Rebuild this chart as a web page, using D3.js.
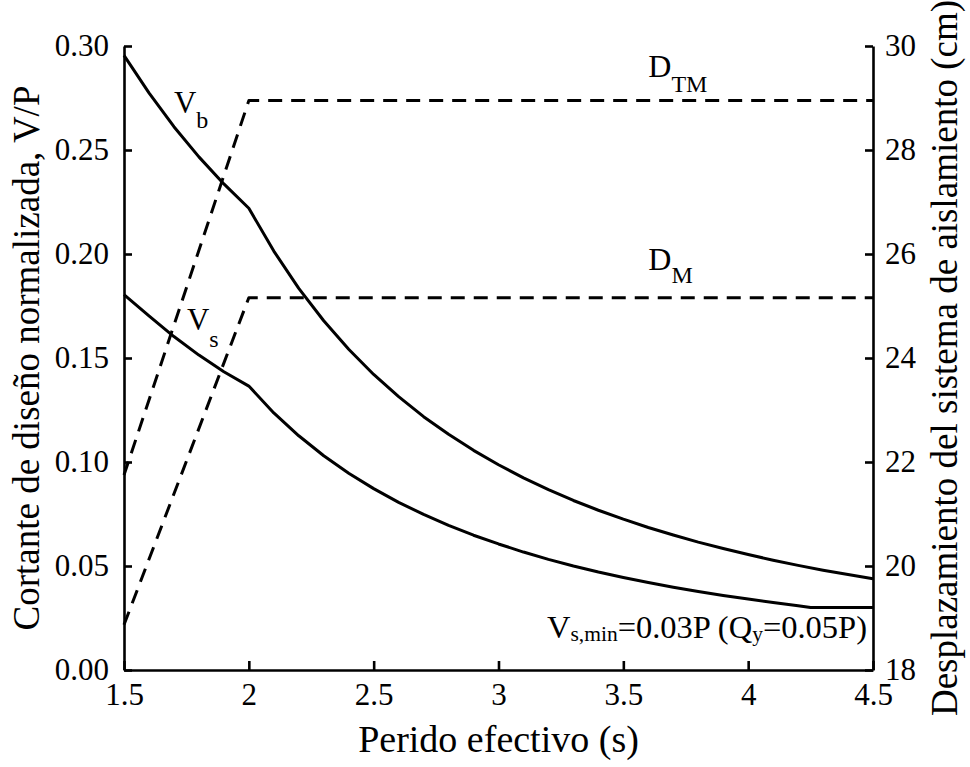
<!DOCTYPE html>
<html>
<head>
<meta charset="utf-8">
<script src="https://cdn.jsdelivr.net/npm/d3@7"></script>
<style>
  html, body { margin: 0; padding: 0; background: #fff; }
  svg { display: block; font-family: "Liberation Serif", "Times New Roman", serif; }
</style>
</head>
<body>
<svg id="chart" width="970" height="767"></svg>
<script>
// Effective period (s)
const periods = [1.5, 1.6, 1.7, 1.8, 1.9, 2.0, 2.1, 2.2, 2.3, 2.4, 2.5, 2.6, 2.7, 2.8, 2.9,
  3.0, 3.1, 3.2, 3.3, 3.4, 3.5, 3.6, 3.7, 3.8, 3.9, 4.0, 4.1, 4.2, 4.3, 4.4, 4.5];

// Normalized base shear V_b / P
const vbValues = [0.2955, 0.2775, 0.2612, 0.2467, 0.2337, 0.2220, 0.2014, 0.1835, 0.1679, 0.1542,
  0.1421, 0.1314, 0.1218, 0.1133, 0.1056, 0.0987, 0.0924, 0.0867, 0.0815, 0.0768, 0.0725,
  0.0685, 0.0649, 0.0615, 0.0584, 0.0555, 0.0528, 0.0503, 0.0480, 0.0459, 0.0439];

// Normalized shear above the isolation level V_s / P (floor at 0.03)
const vsPeriods = [1.5, 1.6, 1.7, 1.8, 1.9, 2.0, 2.1, 2.2, 2.3, 2.4, 2.5, 2.6, 2.7, 2.8, 2.9,
  3.0, 3.1, 3.2, 3.3, 3.4, 3.5, 3.6, 3.7, 3.8, 3.9, 4.0, 4.1, 4.2, 4.25, 4.3, 4.4, 4.5];
const vsValues = [0.1805, 0.1703, 0.1603, 0.1514, 0.1434, 0.1365, 0.1236, 0.1126, 0.1030, 0.0946,
  0.0872, 0.0806, 0.0748, 0.0695, 0.0648, 0.0606, 0.0567, 0.0532, 0.0500, 0.0471, 0.0445,
  0.0421, 0.0398, 0.0377, 0.0358, 0.0341, 0.0324, 0.0309, 0.0300, 0.0300, 0.0300, 0.0300];

// Isolation system displacements (cm)
const dispPeriods = [1.5, 2.0, 4.5];
const dtmValues = [21.75, 28.95, 28.95];
const dmValues = [18.87, 25.16, 25.16];

// Tick values
const xTicks = [1.5, 2, 2.5, 3, 3.5, 4, 4.5];
const yLeftTicks = [0, 0.05, 0.10, 0.15, 0.20, 0.25, 0.30];
const yRightTicks = [18, 20, 22, 24, 26, 28, 30];

const svg = d3.select("#chart");
const plot = { left: 124, right: 873, top: 46, bottom: 670 };

const x = d3.scaleLinear().domain([1.5, 4.5]).range([plot.left, plot.right]);
const yL = d3.scaleLinear().domain([0, 0.30]).range([plot.bottom, plot.top]);
const yR = d3.scaleLinear().domain([18, 30]).range([plot.bottom, plot.top]);

const tickFont = 31;
const titleFont = 37;

// Axes
function styleAxis(g) {
  g.select(".domain").attr("stroke", "#000").attr("stroke-width", 2.6);
  g.selectAll(".tick line").attr("stroke", "#000").attr("stroke-width", 2.6);
  g.selectAll(".tick text").attr("fill", "#000").attr("font-size", tickFont)
    .attr("font-family", "Liberation Serif, Times New Roman, serif");
}

svg.append("g")
  .attr("transform", `translate(0,${plot.bottom})`)
  .call(d3.axisBottom(x).tickValues(xTicks).tickFormat(d3.format("~g"))
    .tickSizeInner(-9).tickSizeOuter(0).tickPadding(13))
  .call(styleAxis);

svg.append("g")
  .attr("transform", `translate(${plot.left},0)`)
  .call(d3.axisLeft(yL).tickValues(yLeftTicks).tickFormat(d3.format(".2f"))
    .tickSizeInner(-8).tickSizeOuter(0).tickPadding(15))
  .call(styleAxis);

svg.append("g")
  .attr("transform", `translate(${plot.right},0)`)
  .call(d3.axisRight(yR).tickValues(yRightTicks).tickFormat(d3.format("d"))
    .tickSizeInner(-8).tickSizeOuter(0).tickPadding(12))
  .call(styleAxis);

// Axis titles
svg.append("text")
  .attr("x", (plot.left + plot.right) / 2)
  .attr("y", 752)
  .attr("text-anchor", "middle")
  .attr("font-size", 38)
  .text("Perido efectivo (s)");

svg.append("text")
  .attr("transform", `translate(39,${(plot.top + plot.bottom) / 2}) rotate(-90)`)
  .attr("text-anchor", "middle")
  .attr("font-size", titleFont)
  .text("Cortante de diseño normalizada, V/P");

svg.append("text")
  .attr("transform", `translate(957,${(plot.top + plot.bottom) / 2}) rotate(-90)`)
  .attr("text-anchor", "middle")
  .attr("font-size", titleFont)
  .text("Desplazamiento del sistema de aislamiento (cm)");

// Curves
const lineShear = d3.line().x(d => x(d[0])).y(d => yL(d[1]));
const lineDisp = d3.line().x(d => x(d[0])).y(d => yR(d[1]));

const vbData = d3.zip(periods, vbValues);
const vsData = d3.zip(vsPeriods, vsValues);
const dtmData = d3.zip(dispPeriods, dtmValues);
const dmData = d3.zip(dispPeriods, dmValues);

const curves = svg.append("g").attr("fill", "none").attr("stroke", "#000")
  .attr("stroke-linejoin", "round");

curves.append("path").datum(vbData)
  .attr("stroke-width", 3)
  .attr("d", lineShear);
curves.append("path").datum(vsData)
  .attr("stroke-width", 3)
  .attr("d", lineShear);

curves.append("path").datum(dtmData)
  .attr("stroke-width", 3)
  .attr("stroke-dasharray", "14,9")
  .attr("d", lineDisp);
curves.append("path").datum(dmData)
  .attr("stroke-width", 3)
  .attr("stroke-dasharray", "14,9")
  .attr("d", lineDisp);

// Curve labels with subscripts
function subLabel(px, py, main, sub, mainSize, subSize, subDy, anchor) {
  const t = svg.append("text")
    .attr("x", px).attr("y", py)
    .attr("font-size", mainSize)
    .attr("text-anchor", anchor || "start");
  t.append("tspan").text(main);
  t.append("tspan").attr("font-size", subSize).attr("dy", subDy).text(sub);
  return t;
}

subLabel(x(1.70), yL(0.268), "V", "b", 31, 24, 15);
subLabel(x(1.752), yL(0.1635), "V", "s", 31, 24, 17);
subLabel(x(3.60), yR(29.40), "D", "TM", 32, 24, 15);
subLabel(x(3.60), yR(25.69), "D", "M", 32, 24, 13);

// Minimum shear note
const note = svg.append("text")
  .attr("x", x(4.476)).attr("y", yL(0.0154))
  .attr("font-size", 32.5)
  .attr("text-anchor", "end");
note.append("tspan").text("V");
note.append("tspan").attr("font-size", 21.5).attr("dy", 3).text("s,min");
note.append("tspan").attr("dy", -3).text("=0.03P (Q");
note.append("tspan").attr("font-size", 21.5).attr("dy", 3).text("y");
note.append("tspan").attr("dy", -3).text("=0.05P)");
</script>
</body>
</html>
